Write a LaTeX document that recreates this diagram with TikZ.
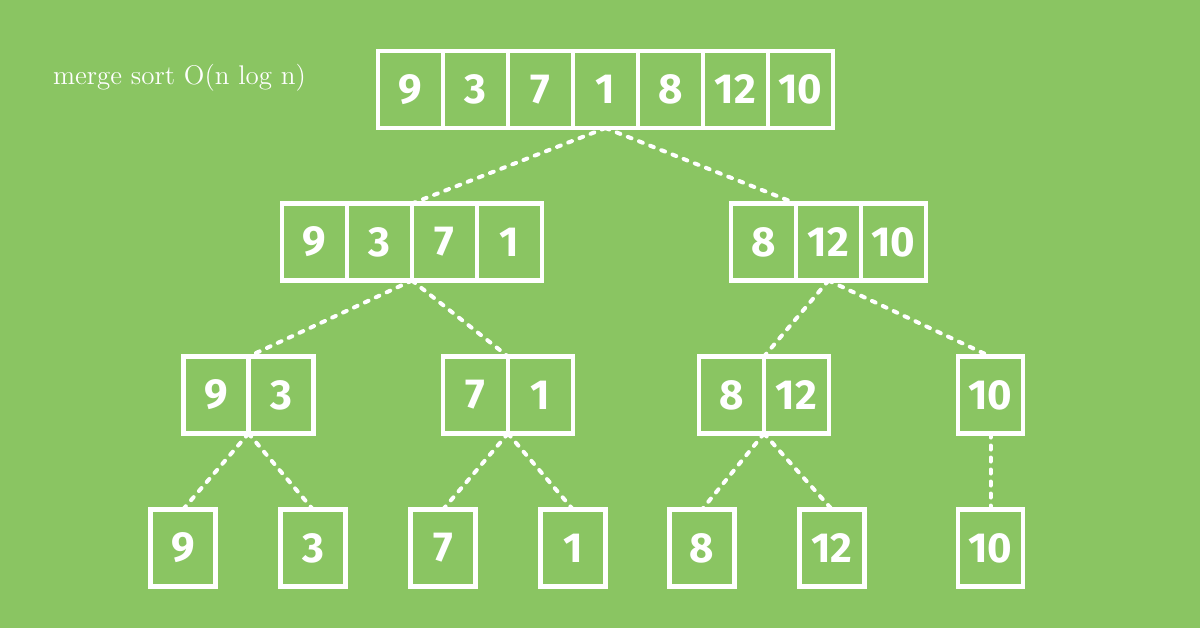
\documentclass[tikz,border=0pt]{standalone}
\usepackage{fontspec}
\newfontfamily\numfont{Fira Sans}
\definecolor{bggreen}{RGB}{138,197,98}
\tikzset{cell/.style={draw=white, line width=2.2pt, minimum width=32.5pt, minimum height=38.5pt,
    inner sep=0pt, outer sep=0pt, text=white, font=\numfont\bfseries\fontsize{21}{21}\selectfont},
  link/.style={draw=white, line width=2pt, dash pattern=on 2pt off 4pt, line cap=round}}
\begin{document}
\begin{tikzpicture}[x=0.5pt, y=-0.5pt]
    \fill[bggreen] (0,0) rectangle (1200,628);
    \useasboundingbox (0,0) rectangle (1200,628);
    \node[text=white, anchor=west, font=\fontsize{13.5}{15}\selectfont] (title) at (46, 78) {merge sort O(n log n)};
    % whole array
    \node[cell] (c1) at (410.5, 89.5) {9};
    \node[cell] (c2) at (475.5, 89.5) {3};
    \node[cell] (c3) at (540.5, 89.5) {7};
    \node[cell] (c4) at (605.5, 89.5) {1};
    \node[cell] (c5) at (670.5, 89.5) {8};
    \node[cell] (c6) at (735.5, 89.5) {12};
    \node[cell] (c7) at (800.5, 89.5) {10};
    % halves
    \node[cell] (l1) at (314.5, 242) {9};
    \node[cell] (l2) at (379.5, 242) {3};
    \node[cell] (l3) at (444.5, 242) {7};
    \node[cell] (l4) at (509.5, 242) {1};
    \node[cell] (r1) at (763.5, 242) {8};
    \node[cell] (r2) at (828.5, 242) {12};
    \node[cell] (r3) at (893.5, 242) {10};
    % quarters
    \node[cell] (a1) at (216, 395) {9};
    \node[cell] (a2) at (281, 395) {3};
    \node[cell] (b1) at (475.5, 395) {7};
    \node[cell] (b2) at (540.5, 395) {1};
    \node[cell] (d1) at (731.5, 395) {8};
    \node[cell] (d2) at (796.5, 395) {12};
    \node[cell] (e1) at (990.5, 395) {10};
    % single elements
    \node[cell] (s9) at (183, 548) {9};
    \node[cell] (s3) at (313, 548) {3};
    \node[cell] (s7) at (443, 548) {7};
    \node[cell] (s1) at (573, 548) {1};
    \node[cell] (s8) at (702, 548) {8};
    \node[cell] (s12) at (832, 548) {12};
    \node[cell] (s10) at (990.5, 548) {10};
    \draw[link] (c4.south) to (l2.north east);
    \draw[link] (c4.south) to (r1.north east);
    \draw[link] (l2.south east) to (a1.north east);
    \draw[link] (l2.south east) to (b1.north east);
    \draw[link] (r2.south) to (d1.north east);
    \draw[link] (r2.south) to (e1.north);
    \draw[link] (a1.south east) to (s9.north);
    \draw[link] (a1.south east) to (s3.north);
    \draw[link] (b1.south east) to (s7.north);
    \draw[link] (b1.south east) to (s1.north);
    \draw[link] (d1.south east) to (s8.north);
    \draw[link] (d1.south east) to (s12.north);
    \draw[link] (e1.south) to (s10.north);
\end{tikzpicture}
\end{document}
